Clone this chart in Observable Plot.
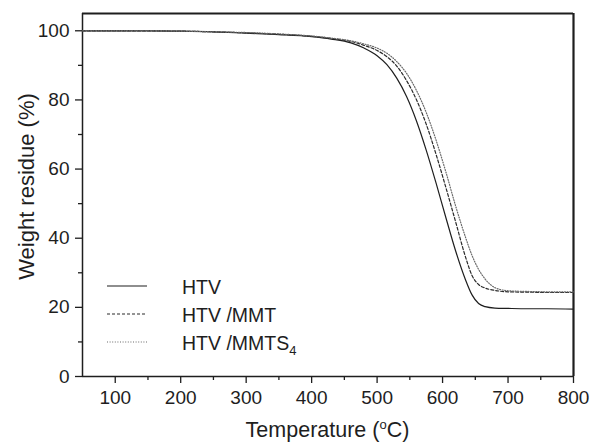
<!DOCTYPE html>
<html><head><meta charset="utf-8">
<script src="https://cdn.jsdelivr.net/npm/d3@7"></script>
<script src="https://cdn.jsdelivr.net/npm/@observablehq/plot@0.6"></script>
<style>body{margin:0;background:#fff}</style>
</head><body><div id="chart"></div>
<script>
// Temperature grid (°C)
const temperature = [50,100,150,200,250,300,350,400,430,460,480,500,515,530,545,560,575,590,605,620,635,645,655,665,680,700,730,760,800];
// Weight residue (%)
const htv      = [100,100,100,99.9,99.7,99.3,98.9,98.3,97.6,96.5,95.0,92.8,90.2,86.3,81.0,74.0,65.5,56.0,46.0,36.3,28.0,23.6,21.1,20.2,19.8,19.7,19.6,19.6,19.5];
const htvMMT   = [100,100,100,99.9,99.7,99.4,99.0,98.4,97.8,96.9,95.8,94.3,92.5,89.8,85.6,80.1,73.0,64.3,54.7,44.7,34.6,29.2,26.6,25.6,24.9,24.5,24.4,24.3,24.3];
const htvMMTS4 = [100,100,100,99.9,99.7,99.5,99.1,98.5,97.9,97.1,96.2,95.0,93.5,91.1,87.7,82.8,76.4,68.4,59.2,49.3,40.3,35.0,31.0,28.2,25.7,24.8,24.6,24.5,24.5];

const seriesNames = ["HTV", "HTV /MMT", "HTV /MMTS"];
const xTicks = [100,200,300,400,500,600,700,800];
const xMinorTicks = [150,250,350,450,550,650,750];
const yTicks = [0,20,40,60,80,100];
const yMinorTicks = [10,30,50,70,90];

const series = [
  {name: seriesNames[0], values: htv, dash: null, color: "#1e1e1e"},
  {name: seriesNames[1], values: htvMMT, dash: "3,2", color: "#2a2a2a"},
  {name: seriesNames[2], values: htvMMTS4, dash: "1,1.6", color: "#6a6a6a"}
];
const rows = series.flatMap(s => temperature.map((t, i) => ({series: s.name, t, v: s.values[i]})));

const font = "'Liberation Sans', Arial, sans-serif";
const ink = "#1e1e1e";

const plot = Plot.plot({
  width: 592, height: 444,
  marginLeft: 82, marginRight: 19, marginTop: 13, marginBottom: 68,
  style: {fontFamily: font, fontSize: "19px", color: ink, background: "#fff"},
  x: {domain: [50, 800]},
  y: {domain: [0, 105]},
  marks: [
    Plot.axisX({ticks: xTicks, tickSize: 7, tickPadding: 7, strokeWidth: 1.3, label: null, fontSize: 19}),
    Plot.axisX({ticks: xMinorTicks, tickSize: 4, strokeWidth: 1.3, text: null, label: null}),
    Plot.axisY({ticks: yTicks, tickSize: 7, tickPadding: 6, strokeWidth: 1.3, label: null, fontSize: 19}),
    Plot.axisY({ticks: yMinorTicks, tickSize: 4, strokeWidth: 1.3, text: null, label: null}),
    Plot.ruleY([0], {stroke: ink, strokeWidth: 1.5}),
    Plot.ruleX([50], {stroke: ink, strokeWidth: 1.5}),
    Plot.ruleY([105], {stroke: ink, strokeWidth: 2.2}),
    Plot.ruleX([800], {stroke: ink, strokeWidth: 2.2}),
    ...series.map(s => Plot.line(rows.filter(r => r.series === s.name), {
      x: "t", y: "v", stroke: s.color, strokeWidth: 1.2, strokeDasharray: s.dash, curve: "monotone-x"
    }))
  ]
});
document.getElementById("chart").appendChild(plot);

const svg = d3.select(plot);
const xr = plot.scale("x").range, yr = plot.scale("y").range;
// x label with superscript
const xl = svg.append("text").attr("x", (xr[0] + xr[1]) / 2).attr("y", 437)
  .attr("text-anchor", "middle").attr("font-family", font).attr("font-size", 21.5).attr("fill", ink);
xl.append("tspan").text("Temperature (");
xl.append("tspan").attr("dy", -8).attr("font-size", 13).text("o");
xl.append("tspan").attr("dy", 8).text("C)");
// y label
svg.append("text").attr("transform", `translate(34,${(yr[0] + yr[1]) / 2 - 8}) rotate(-90)`)
  .attr("text-anchor", "middle").attr("font-family", font).attr("font-size", 22).attr("fill", ink)
  .text("Weight residue (%)");
// legend
const lg = svg.append("g").attr("font-family", font).attr("font-size", 19.5).attr("fill", ink)
  .attr("text-anchor", "start");
series.forEach((s, i) => {
  const yy = 286 + i * 28;
  lg.append("line").attr("x1", 107).attr("x2", 147).attr("y1", yy).attr("y2", yy)
    .attr("stroke", s.color).attr("stroke-width", 1.2).attr("stroke-dasharray", s.dash);
  const t = lg.append("text").attr("x", 182).attr("y", yy + 8).attr("text-anchor", "start");
  t.append("tspan").text(s.name);
  if (i === 2) t.append("tspan").attr("dy", 5).attr("font-size", 13).text("4");
});
</script>
</body></html>
